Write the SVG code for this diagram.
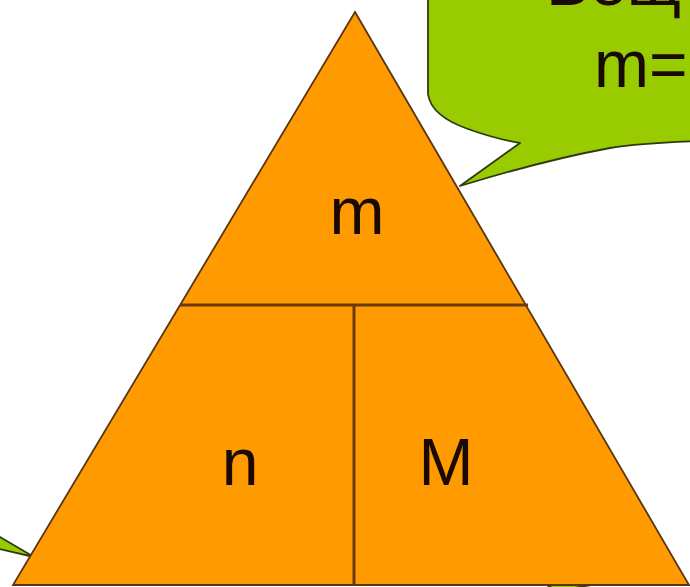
<svg xmlns="http://www.w3.org/2000/svg" width="690" height="587" viewBox="0 0 690 587">
<style>
.tri{fill:#FF9A00;stroke:#5a3510;stroke-width:1.8;stroke-linejoin:miter}
.div{stroke:#6a3a0c;stroke-width:3;fill:none}
.call{fill:#99CC00;stroke:#2f3a10;stroke-width:1.8;stroke-linejoin:round}
.lbl{font-family:"Liberation Sans",Arial,sans-serif;font-size:66px;fill:#1a0a05}
</style>
<rect width="690" height="587" fill="#ffffff"/>
<g id="callout-top">
<path class="call" d="M428,-10 L428,94 Q431,116 468,129 Q496,139 520,143 L460,186 Q545,160 610,148 Q640,143 700,141 L700,-10 Z"/>
<text class="lbl" x="546" y="5">Вещ</text>
<text class="lbl" x="594" y="87">m=</text>
</g>
<g id="callout-left">
<path class="call" d="M-5,534 L34,557 L-5,548 Z"/>
</g>
<g id="callout-bottom">
<path class="call" d="M533,578 L615,592 L560,592 Z"/>
</g>
<g id="triangle">
<path class="tri" d="M355,12 L689,585 L13,585 Z"/>
</g>
<g id="connectors">
<line class="div" x1="180" y1="305" x2="528" y2="305"/>
<line class="div" x1="354" y1="305" x2="354" y2="585"/>
</g>
<g id="node-m"><text class="lbl" x="357" y="234" text-anchor="middle">m</text></g>
<g id="node-n"><text class="lbl" x="240" y="485" text-anchor="middle">n</text></g>
<g id="node-M"><text class="lbl" x="446" y="485" text-anchor="middle">M</text></g>
</svg>
